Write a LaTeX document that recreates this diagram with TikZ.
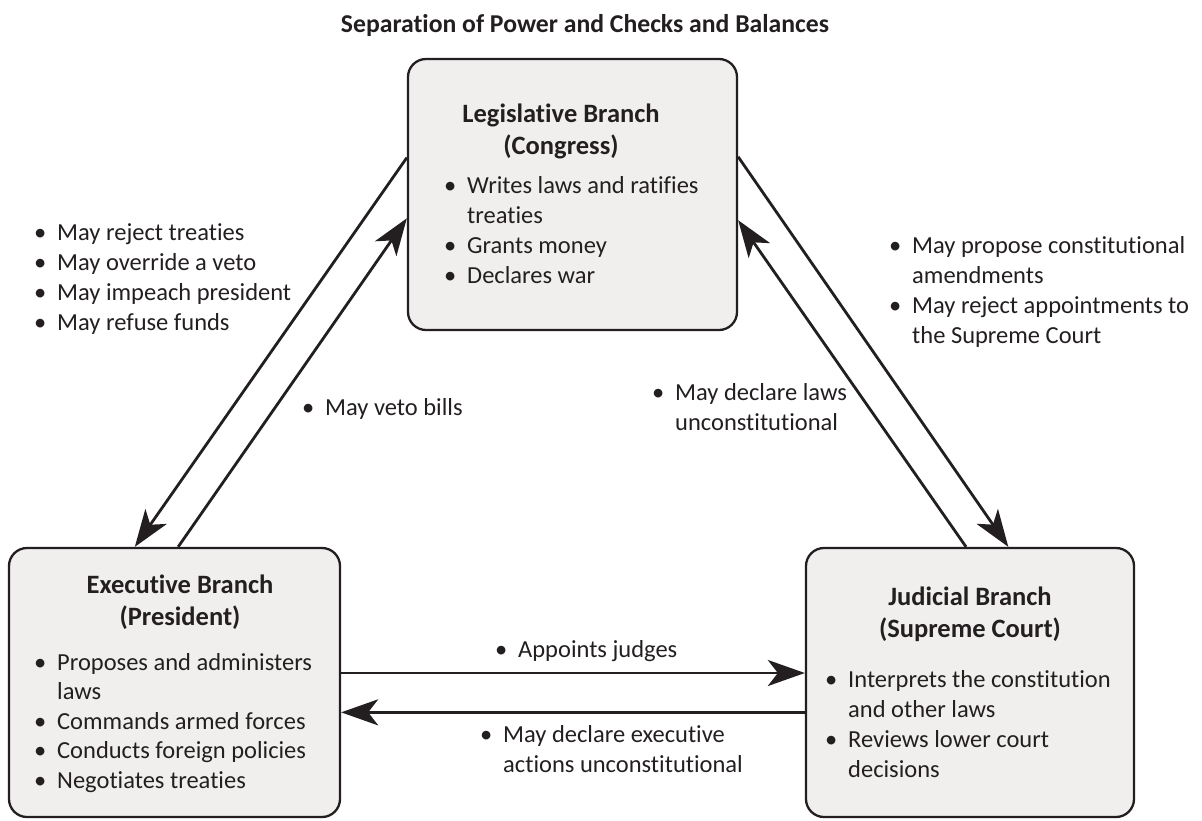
\documentclass[tikz,border=0pt]{standalone}
\usepackage{fontspec}
\setmainfont{Carlito}[Ligatures={TeX,NoCommon}]
\usetikzlibrary{arrows.meta,calc}
\definecolor{boxfill}{RGB}{240,239,238}
\definecolor{ink}{RGB}{35,31,32}
\newcommand{\bul}{\makebox[23pt][l]{\textbullet}}
\newcommand{\ind}{\hspace*{23pt}}
\newcommand{\tlines}[1]{\begin{tabular}[t]{@{}l@{}}#1\end{tabular}}
\newcommand{\clines}[1]{\begin{tabular}[t]{@{}c@{}}#1\end{tabular}}
\tikzset{
  branch/.style={draw=ink, fill=boxfill, line width=2.3pt, rounded corners=18pt, inner sep=0pt},
  lbl/.style={anchor=base west, inner sep=0pt, text=ink, font=\fontsize{24.5}{30}\selectfont},
  head/.style={anchor=base, inner sep=0pt, text=ink, font=\fontsize{26.5}{32.5}\selectfont\bfseries},
  conn/.style={draw=ink, line width=2.8pt, -{Stealth[length=37pt,width=26pt,inset=10pt]}},
}
\begin{document}
\begin{tikzpicture}[x=1pt,y=-1pt]
\useasboundingbox[fill=white] (0,0) rectangle (1202,820);

% title
\node[head, font=\fontsize{25.7}{31}\selectfont\bfseries] (title) at (585,32) {Separation of Power and Checks and Balances};

% boxes
\node[branch, minimum width=329pt, minimum height=271pt] (leg) at (572.5,194.5) {};
\node[branch, minimum width=331pt, minimum height=269pt] (exe) at (174.5,682.5) {};
\node[branch, minimum width=328pt, minimum height=269pt] (jud) at (970,682.5) {};

% box headings
\node[head] (legh) at (561,122) {\clines{Legislative Branch\\(Congress)}};
\node[head] (exeh) at (180,593) {\clines{Executive Branch\\(President)}};
\node[head] (judh) at (970,605) {\clines{Judicial Branch\\(Supreme Court)}};

% box contents
\node[lbl] (legt) at (444,193) {\tlines{\bul Writes laws and ratifies\\ \ind treaties\\ \bul Grants money\\ \bul Declares war}};
\node[lbl, font=\fontsize{24.5}{29.5}\selectfont] (exet) at (34,670) {\tlines{\bul Proposes and administers\\ \ind laws\\ \bul Commands armed forces\\ \bul Conducts foreign policies\\ \bul Negotiates treaties}};
\node[lbl] (judt) at (825,687) {\tlines{\bul Interprets the constitution\\ \ind and other laws\\ \bul Reviews lower court\\ \ind decisions}};

% connectors
\draw[conn] ($(leg.north west)!0.365!(leg.south west)$) -- ($(exe.north west)!0.381!(exe.north east)$);
\draw[conn] ($(exe.north west)!0.511!(exe.north east)$) -- ($(leg.north west)!0.587!(leg.south west)$);
\draw[conn] ($(leg.north east)!0.362!(leg.south east)$) -- ($(jud.north west)!0.616!(jud.north east)$);
\draw[conn] ($(jud.north west)!0.488!(jud.north east)$) -- ($(leg.north east)!0.594!(leg.south east)$);
\draw[conn] ($(exe.north east)!0.465!(exe.south east)$) -- ($(jud.north west)!0.465!(jud.south west)$);
\draw[conn] ($(jud.north west)!0.61!(jud.south west)$) -- ($(exe.north east)!0.61!(exe.south east)$);

% connector labels
\node[lbl] (checkleg) at (34,240) {\tlines{\bul May reject treaties\\ \bul May override a veto\\ \bul May impeach president\\ \bul May refuse funds}};
\node[lbl] (veto) at (302,415) {\bul May veto bills};
\node[lbl] (checkcourt) at (889,253) {\tlines{\bul May propose constitutional\\ \ind amendments\\ \bul May reject appointments to\\ \ind the Supreme Court}};
\node[lbl] (review) at (652,400) {\tlines{\bul May declare laws\\ \ind unconstitutional}};
\node[lbl] (appoint) at (495,657) {\bul Appoints judges};
\node[lbl] (declex) at (480,742) {\tlines{\bul May declare executive\\ \ind actions unconstitutional}};
\end{tikzpicture}
\end{document}
